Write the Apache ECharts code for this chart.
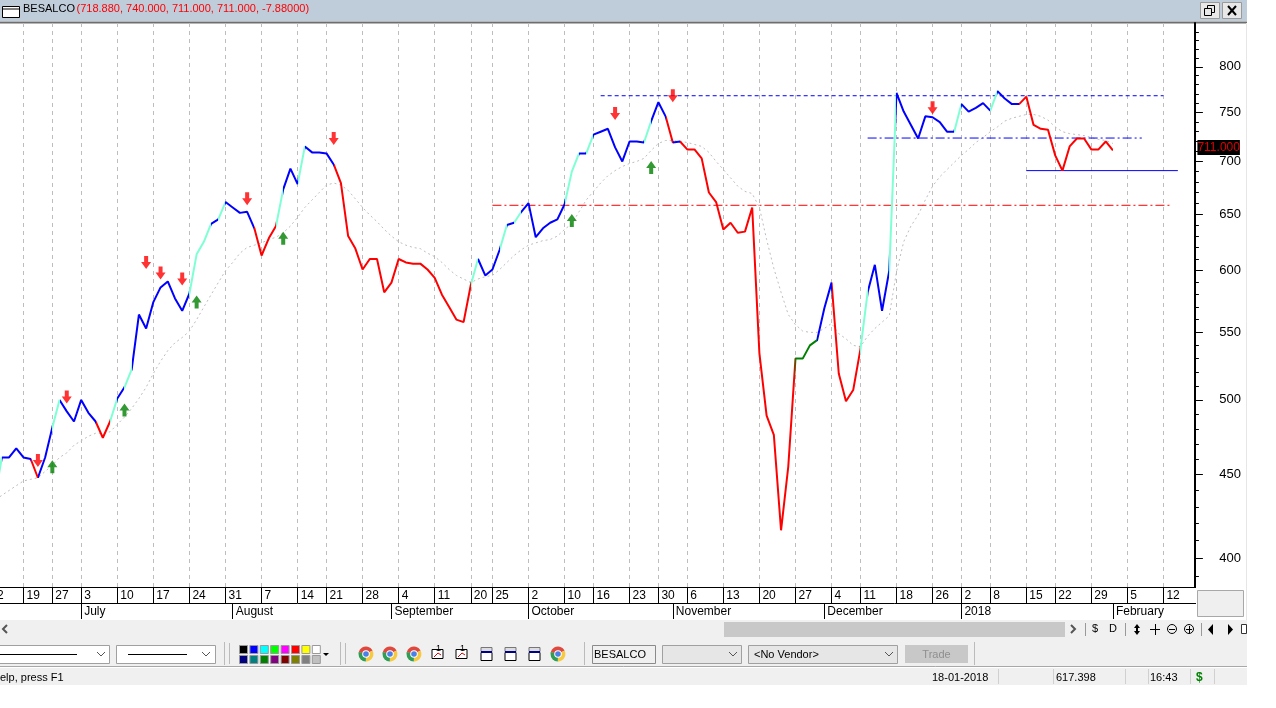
<!DOCTYPE html>
<html>
<head>
<meta charset="utf-8">
<title>BESALCO</title>
<script src="https://cdn.jsdelivr.net/npm/echarts@6/dist/echarts.min.js"></script>
<style>
  html, body { margin: 0; padding: 0; background: #fff; }
  #chart { width: 1276px; height: 708px; }
</style>
</head>
<body>
<div id="chart"></div>
<script>
// trading days shown on the axis, month-day
var barDates = [
  '06-12','06-13','06-14','06-15','06-16','06-19','06-20','06-21','06-22','06-27','06-28','06-29','06-30',
  '07-03','07-04','07-05','07-06','07-07','07-10','07-11','07-12','07-13','07-14','07-17','07-18','07-19','07-20','07-21',
  '07-24','07-25','07-26','07-27','07-28','07-31','08-01','08-02','08-03','08-04','08-07','08-08','08-09','08-10','08-11',
  '08-14','08-16','08-17','08-18','08-21','08-22','08-23','08-24','08-25','08-28','08-29','08-30','08-31','09-01',
  '09-04','09-05','09-06','09-07','09-08','09-11','09-12','09-13','09-14','09-15','09-20','09-21','09-22',
  '09-25','09-26','09-27','09-28','09-29','10-02','10-03','10-04','10-05','10-06','10-10','10-11','10-12','10-13',
  '10-16','10-17','10-18','10-19','10-20','10-23','10-24','10-25','10-26','10-30','10-31','11-01','11-02',
  '11-06','11-07','11-08','11-09','11-10','11-13','11-14','11-15','11-16','11-17','11-20','11-21','11-22','11-23','11-24',
  '11-27','11-28','11-29','11-30','12-01','12-04','12-05','12-06','12-07','12-11','12-12','12-13','12-14','12-15',
  '12-18','12-19','12-20','12-21','12-22','12-26','12-27','12-28','12-29','01-02','01-03','01-04','01-05',
  '01-08','01-09','01-10','01-11','01-12','01-15','01-16','01-17','01-18','01-22','01-23','01-24','01-25','01-26',
  '01-29','01-30','01-31','02-01','02-02','02-05','02-06','02-07','02-08','02-09','02-12','02-13','02-14','02-15','02-16'
];

// close
var closeValues = [
  434,434,461,461,467,461,460,448,461,481,500,492,485,500,491,485,474,485,501,509,522,
  564,553,574,586,591,577,567,581,614,625,641,645,661,656,651,652,637,613,628,639,673,693,678,
  715,709,709,708,697,679,630,619,601,610,610,582,590,610,607,606,606,601,594,580,570,560,558,
  588,610,596,601,618,640,642,652,660,629,637,642,645,659,690,708,708,727,730,733,714,700,
  720,720,719,741,761,746,719,720,712,712,703,670,661,636,642,633,634,656,534,489,476,416,455,
  530,530,540,544,569,590,519,499,507,537,582,605,567,600,771,751,737,723,746,745,740,730,730,
  759,751,755,760,752,773,765,759,759,767,737,733,732,706,691,715,723,723,712,712,720,711
];

// slow moving average (dotted grey)
var avgValues = [
  431,434,437,440,443,446,447,448,452,456,461,464,469,472,475,477,477,478,483,488,494,
  501,509,519,528,536,542,546,551,560,570,580,590,600,607,615,620,622,624,627,629,633,639,647,
  656,663,670,677,679,677,672,664,656,649,643,636,630,625,622,620,619,615,612,607,601,596,593,
  590,593,595,596,601,607,613,618,622,624,626,627,630,636,641,652,663,671,679,686,691,695,
  698,700,703,711,718,721,721,720,719,717,715,709,700,692,684,676,671,669,656,627,602,582,564,
  556,551,550,550,553,557,549,545,540,539,547,553,558,563,599,625,639,649,663,676,685,692,699,
  706,712,719,724,730,735,741,744,746,748,748,746,742,735,730,728,727,726,724,722,721,718
];

// [last bar index of the run, colour]
var colorRuns = [
  [2,'#7fffd4'],[6,'#0000ff'],[7,'#ff0000'],[9,'#0000ff'],[10,'#7fffd4'],[15,'#0000ff'],[17,'#ff0000'],
  [18,'#7fffd4'],[19,'#0000ff'],[20,'#7fffd4'],[28,'#0000ff'],[31,'#7fffd4'],[32,'#0000ff'],[33,'#7fffd4'],
  [37,'#0000ff'],[40,'#ff0000'],[41,'#7fffd4'],[43,'#0000ff'],[44,'#7fffd4'],[48,'#0000ff'],[67,'#ff0000'],
  [68,'#7fffd4'],[71,'#0000ff'],[72,'#7fffd4'],[73,'#0000ff'],[74,'#7fffd4'],[80,'#0000ff'],[82,'#7fffd4'],
  [83,'#0000ff'],[84,'#7fffd4'],[91,'#0000ff'],[92,'#7fffd4'],[94,'#0000ff'],[95,'#ff0000'],[96,'#0000ff'],
  [112,'#ff0000'],[115,'#008000'],[117,'#0000ff'],[121,'#ff0000'],[122,'#7fffd4'],[125,'#0000ff'],[126,'#7fffd4'],
  [134,'#0000ff'],[135,'#7fffd4'],[139,'#0000ff'],[140,'#7fffd4'],[143,'#0000ff'],[156,'#ff0000']
];

// sell / buy arrows: [bar index, price level]
var sellArrows = [[7,459],[11,502],[22,607],[24,598],[27,593],[36,664],[48,723],[87,749],[95,768],[131,755]];
var buyArrows = [[9,455],[19,493],[29,574],[41,628],[81,644],[92,694]];

// hand drawn levels: [first bar, last bar, price]
var blueDashLevel = [85, 163, 768];
var blueDashDotLevel = [122, 160, 723.5];
var redDashDotLevel = [70, 164, 658];
var blueSolidLevel = [144, 165, 691];

var priceTicks = [400,450,500,550,600,650,700,750,800];
var minorTicks = [390,410,420,430,440,460,470,480,490,510,520,530,540,560,570,580,590,610,620,630,640,
  660,670,680,690,710,720,730,740,760,770,780,790,810,820,830,840];
var lastClose = 711;

// bars where the axis has a date tick and a vertical grid line
var weekStarts = [0,5,9,13,18,23,28,33,38,43,47,52,57,62,67,70,75,80,84,89,93,97,102,107,112,117,121,126,131,135,139,144,148,153,158,163];
var monthStarts = [13,34,56,75,95,116,135,156];
var monthNames = ['July','August','September','October','November','December','2018','February'];

var FONT = '"Liberation Sans", Arial, sans-serif';
var PANEL = '#f0f0f0';

function isWeek(i) { return weekStarts.indexOf(i) >= 0; }
function isMonth(i) { return monthStarts.indexOf(i) >= 0; }

// toolbar and window frame helpers
function rect(x, y, w, h, fill, stroke) {
  return { type: 'rect', shape: { x: x, y: y, width: w, height: h }, style: { fill: fill || 'none', stroke: stroke || null, lineWidth: 1 }, silent: true };
}
function line(x1, y1, x2, y2, color, w) {
  return { type: 'line', shape: { x1: x1, y1: y1, x2: x2, y2: y2 }, style: { stroke: color, lineWidth: w || 1 }, silent: true };
}
function label(x, y, str, color, size, extra) {
  var st = { x: x, y: y, text: str, fill: color || '#000', font: (size || 11) + 'px ' + FONT, textVerticalAlign: 'middle' };
  for (var k in (extra || {})) st[k] = extra[k];
  return { type: 'text', style: st, silent: true };
}
function poly(points, fill) {
  return { type: 'polygon', shape: { points: points }, style: { fill: fill }, silent: true };
}
function chevronDown(x, y) {
  return { type: 'polyline', shape: { points: [[x - 4, y - 2], [x, y + 2], [x + 4, y - 2]] }, style: { stroke: '#555', fill: 'none', lineWidth: 1 }, silent: true };
}
function browserIcon(cx, cy) {
  function arc(a, b, c) {
    return { type: 'sector', shape: { cx: cx, cy: cy, r: 7.5, r0: 0, startAngle: a, endAngle: b }, style: { fill: c }, silent: true };
  }
  return [
    arc(-2.9, -0.5, '#e0483e'), arc(-0.5, 1.6, '#f7c93e'), arc(1.6, 3.4, '#2f9e54'),
    { type: 'circle', shape: { cx: cx, cy: cy, r: 3.8 }, style: { fill: '#fff' }, silent: true },
    { type: 'circle', shape: { cx: cx, cy: cy, r: 2.8 }, style: { fill: '#4a80e8' }, silent: true }
  ];
}
function miniChartIcon(x) {
  return [rect(x, 649.5, 11, 9, '#fff', '#000'),
    { type: 'polyline', shape: { points: [[x + 2, 657], [x + 6, 653], [x + 9, 655]] }, style: { stroke: '#d00', fill: 'none' }, silent: true },
    label(x + 4, 649, '1', '#000', 9)];
}
function windowIcon(x) {
  return [rect(x, 647.5, 11, 4, '#ddd', '#777'), rect(x, 652.5, 11, 8, '#fff', '#000'), line(x, 652, x + 11, 652, '#00008b', 2)];
}

var frame = [];
// title bar
frame.push(rect(0, 0, 1247, 21, '#bfcddb'));
frame.push(line(0, 22.5, 1247, 22.5, '#6e6e6e', 2));
frame.push(rect(2.5, 6.5, 17, 11, '#fff', '#000'), line(2, 9, 20, 9, '#000', 1));
frame.push(label(23, 9, 'BESALCO', '#000', 11), label(76.5, 9, '(718.880, 740.000, 711.000, 711.000, -7.88000)', '#ff0000', 11));
frame.push(rect(1200.5, 2.5, 19, 16, '#e8e8e8', '#9a9a9a'), rect(1222.5, 2.5, 19, 16, '#e8e8e8', '#9a9a9a'));
frame.push(rect(1207.5, 5.5, 7, 7, 'none', '#000'), rect(1204.5, 8.5, 7, 7, '#e8e8e8', '#000'));
frame.push(line(1228, 6, 1236, 15, '#000', 2), line(1236, 6, 1228, 15, '#000', 2));
// right edge, end of the two date rows
frame.push(line(1246.5, 23, 1246.5, 620, '#e6e6e6'));
frame.push(line(1190, 587.5, 1196, 587.5, '#000'), line(1190, 603.5, 1196, 603.5, '#000'));
frame.push(rect(1197.5, 590.5, 46, 26, '#efefef', '#a8a8a8'));
// scroll row
frame.push(rect(0, 620, 1247, 20, PANEL));
frame.push(rect(724, 622, 341, 15, '#c8c8c8'));
frame.push({ type: 'polyline', shape: { points: [[7, 625], [3, 629], [7, 633]] }, style: { stroke: '#555', fill: 'none', lineWidth: 2 }, silent: true });
frame.push({ type: 'polyline', shape: { points: [[1071, 625], [1075, 629], [1071, 633]] }, style: { stroke: '#555', fill: 'none', lineWidth: 2 }, silent: true });
frame.push(line(1085.5, 623, 1085.5, 636, '#999'), line(1125.5, 623, 1125.5, 636, '#999'), line(1201.5, 623, 1201.5, 636, '#999'));
frame.push(label(1095, 629, '$', '#000', 11, { textAlign: 'center' }), label(1113, 629, 'D', '#000', 11, { textAlign: 'center' }));
frame.push(poly([[1137, 624], [1140, 628], [1134, 628]], '#000'), poly([[1137, 635], [1140, 631], [1134, 631]], '#000'), line(1137, 627, 1137, 632, '#000', 2));
frame.push(line(1150, 629.5, 1160, 629.5, '#000'), line(1155.5, 624, 1155.5, 635, '#000'));
frame.push({ type: 'circle', shape: { cx: 1172, cy: 629, r: 4.5 }, style: { fill: 'none', stroke: '#000' }, silent: true }, line(1169, 629.5, 1175, 629.5, '#000'));
frame.push({ type: 'circle', shape: { cx: 1189, cy: 629, r: 4.5 }, style: { fill: 'none', stroke: '#000' }, silent: true }, line(1186, 629.5, 1192, 629.5, '#000'), line(1189.5, 626, 1189.5, 633, '#000'));
frame.push(poly([[1208, 629.5], [1213, 624], [1213, 635]], '#000'), poly([[1233, 629.5], [1228, 624], [1228, 635]], '#000'));
frame.push(rect(1241.5, 624.5, 5, 9, '#fff', '#333'));
// tool row
frame.push(rect(0, 640, 1247, 26, PANEL));
frame.push(rect(-5.5, 645.5, 115, 18, '#fff', '#a0a0a0'), line(0, 654.5, 77, 654.5, '#000'), chevronDown(101, 654));
frame.push(rect(116.5, 645.5, 99, 18, '#fff', '#a0a0a0'), line(128, 654.5, 187, 654.5, '#000'), chevronDown(206, 654));
frame.push(line(224.5, 642, 224.5, 665, '#bbb'), line(229.5, 643, 229.5, 664, '#bbb'));
['#000000', '#0000ff', '#00ffff', '#00ff00', '#ff00ff', '#ff0000', '#ffff00', '#ffffff'].forEach(function (c, i) {
  frame.push(rect(239.5 + i * 10.4, 645.5, 8, 8, c, '#999'));
});
['#000080', '#008080', '#008000', '#800080', '#800000', '#808000', '#808080', '#c0c0c0'].forEach(function (c, i) {
  frame.push(rect(239.5 + i * 10.4, 655.5, 8, 8, c, '#999'));
});
frame.push(poly([[323, 653], [329, 653], [326, 656]], '#000'));
frame.push(line(340.5, 642, 340.5, 665, '#bbb'), line(345.5, 643, 345.5, 664, '#bbb'));
[366, 390, 414, 558].forEach(function (x) { frame = frame.concat(browserIcon(x, 654)); });
[432, 456].forEach(function (x) { frame = frame.concat(miniChartIcon(x)); });
[481, 505, 529].forEach(function (x) { frame = frame.concat(windowIcon(x)); });
frame.push(line(584.5, 642, 584.5, 665, '#bbb'));
frame.push(rect(592.5, 645.5, 63, 18, PANEL, '#8a8a8a'), label(594, 654.5, 'BESALCO', '#000', 11));
frame.push(rect(662.5, 645.5, 79, 18, '#e6e6e6', '#a0a0a0'), chevronDown(733, 654));
frame.push(rect(748.5, 645.5, 149, 18, '#e6e6e6', '#a0a0a0'), label(754, 654.5, '<No Vendor>', '#000', 11), chevronDown(889, 654));
frame.push(rect(905, 645, 63, 18, '#c8c8c8'), label(936.5, 654.5, 'Trade', '#8f8f8f', 11, { textAlign: 'center' }));
frame.push(line(974.5, 642, 974.5, 665, '#bbb'));
// status bar
frame.push(rect(0, 666, 1247, 19, PANEL));
frame.push(line(0, 666.5, 1247, 666.5, '#a8a8a8'), line(0, 667.5, 1247, 667.5, '#fff'));
frame.push(label(0, 678, 'elp, press F1', '#000', 11));
[998, 1053, 1125, 1148, 1190, 1214].forEach(function (x) { frame.push(line(x + 0.5, 669, x + 0.5, 684, '#d0d0d0')); });
frame.push(label(932, 678, '18-01-2018', '#000', 11), label(1056, 678, '617.398', '#000', 11), label(1150, 678, '16:43', '#000', 11));
frame.push(label(1196, 678, '$', '#008000', 12, { fontWeight: 'bold' }));

function levelSeries(level, color, dash) {
  return {
    type: 'line',
    data: [[level[0], level[2]], [level[1], level[2]]],
    symbol: 'none',
    silent: true,
    z: 3,
    lineStyle: { color: color, width: 1, type: dash }
  };
}

var prevEnd = -1;
var colorPieces = colorRuns.map(function (r) {
  var p = { gt: prevEnd, lte: r[0], color: r[1] };
  prevEnd = r[0];
  return p;
});

var chart = echarts.init(document.getElementById('chart'));

var option = {
  animation: false,
  backgroundColor: '#fff',
  textStyle: { fontFamily: FONT },
  // first bars lie left of the window, so the grid starts off canvas
  grid: { left: -12.6, top: 23, width: 1204.9, height: 564, containLabel: false, outerBoundsMode: 'none' },
  xAxis: [
    {
      type: 'category',
      data: barDates,
      boundaryGap: false,
      position: 'bottom',
      axisLine: { show: true, lineStyle: { color: '#000', width: 1 } },
      axisTick: { interval: isWeek, length: 16, lineStyle: { color: '#000' } },
      axisLabel: {
        interval: isWeek,
        hideOverlap: false,
        formatter: function (v) { return String(+v.slice(3)); },
        align: 'left',
        margin: 3,
        padding: [0, 0, 0, 3],
        color: '#000',
        fontFamily: FONT,
        fontSize: 12
      },
      splitLine: { show: true, interval: isWeek, lineStyle: { color: '#bdbdbd', width: 1, type: [4, 4] } }
    },
    {
      type: 'category',
      data: barDates,
      boundaryGap: false,
      position: 'bottom',
      offset: 16,
      axisLine: { show: true, lineStyle: { color: '#000', width: 1 } },
      axisTick: { interval: isMonth, length: 16, lineStyle: { color: '#000' } },
      axisLabel: {
        interval: isMonth,
        hideOverlap: false,
        formatter: function (v, i) { return monthNames[monthStarts.indexOf(i)]; },
        align: 'left',
        margin: 3,
        padding: [0, 0, 0, 3],
        color: '#000',
        fontFamily: FONT,
        fontSize: 12
      },
      splitLine: { show: false }
    }
  ],
  yAxis: [
    {
      type: 'log',
      position: 'right',
      offset: 2.6,
      min: 384,
      max: 851,
      axisLine: { show: true, onZero: false, lineStyle: { color: '#000', width: 2 } },
      axisTick: { show: true, customValues: priceTicks, length: 8, lineStyle: { color: '#000' } },
      axisLabel: {
        customValues: priceTicks,
        align: 'right',
        margin: 46,
        padding: [2, 0, 0, 0],
        color: '#000',
        fontFamily: FONT,
        fontSize: 13
      },
      splitLine: { show: false }
    },
    {
      type: 'log',
      position: 'right',
      offset: 2.6,
      min: 384,
      max: 851,
      axisLine: { show: false },
      axisTick: { show: true, customValues: minorTicks, length: 4, lineStyle: { color: '#000' } },
      axisLabel: {
        // tag sits a little above its level, as in the picture
        customValues: [lastClose + 3],
        formatter: function () { return lastClose.toFixed(3); },
        align: 'right',
        margin: 45,
        color: '#e00000',
        backgroundColor: '#000',
        padding: [2, 0, 1, 0],
        fontFamily: FONT,
        fontSize: 12
      },
      splitLine: { show: false }
    }
  ],
  visualMap: {
    type: 'piecewise',
    show: false,
    dimension: 0,
    seriesIndex: 0,
    pieces: colorPieces
  },
  series: [
    {
      name: 'BESALCO',
      type: 'line',
      data: closeValues,
      symbol: 'none',
      z: 5,
      lineStyle: { width: 2 }
    },
    {
      name: 'Average',
      type: 'line',
      data: avgValues,
      symbol: 'none',
      z: 2,
      lineStyle: { color: '#bdbdbd', width: 1, type: [2, 3] }
    },
    levelSeries(blueDashLevel, '#0000ff', [4, 3]),
    levelSeries(blueDashDotLevel, '#0000ff', [9, 3, 2, 3]),
    levelSeries(redDashDotLevel, '#ff0000', [9, 3, 2, 3]),
    levelSeries(blueSolidLevel, '#0000ff', 'solid'),
    {
      name: 'Sell',
      type: 'scatter',
      data: sellArrows,
      symbol: 'path://M3 0H7V6H10L5 13L0 6H3Z',
      symbolSize: [10, 13],
      itemStyle: { color: '#ff0000' },
      z: 6
    },
    {
      name: 'Buy',
      type: 'scatter',
      data: buyArrows,
      symbol: 'path://M5 0L10 7H7V13H3V7H0Z',
      symbolSize: [10, 13],
      itemStyle: { color: '#008000' },
      z: 6
    }
  ],
  graphic: { elements: frame }
};

chart.setOption(option);
</script>
</body>
</html>
